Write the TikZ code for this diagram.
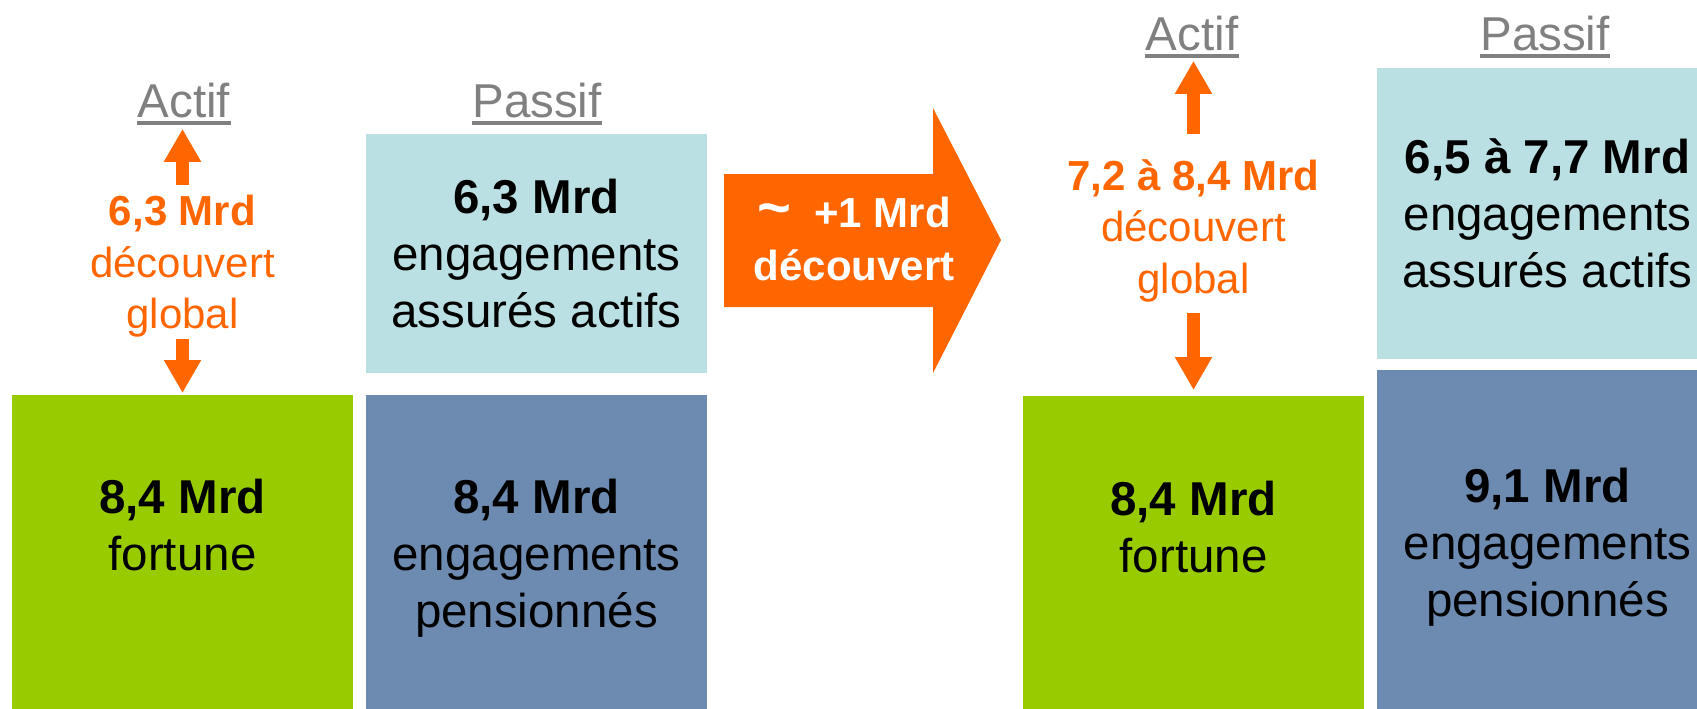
\documentclass[tikz,border=0pt]{standalone}
\usepackage{fontspec}
\setmainfont{Liberation Sans}
\usetikzlibrary{arrows.meta,positioning,fit}
\definecolor{orangeA}{HTML}{FF6600}
\definecolor{greenA}{HTML}{99CC00}
\definecolor{blueA}{HTML}{6D8AB0}
\definecolor{cyanA}{HTML}{BAE0E3}
\definecolor{grayA}{HTML}{808080}
\tikzstyle{block} = [inner sep=0,outer sep=0,draw=none]
\tikzstyle{colhead} = [inner sep=0,text=grayA,font=\fontsize{23.75}{28}\selectfont]
\tikzstyle{boxtext} = [inner sep=0,align=center,font=\fontsize{23.75}{28.5}\selectfont]
\tikzstyle{gap} = [inner sep=0,align=center,text=orangeA,font=\fontsize{21}{25.75}\selectfont]
\tikzstyle{bigtext} = [inner sep=0,align=center,text=white,font=\fontsize{21}{26.5}\selectfont\bfseries]
\tikzstyle{flow} = [-{Triangle[width=17.5pt,length=16.5pt]},line width=6.6pt,orangeA]
\tikzstyle{underl} = [line width=2pt,grayA]

\begin{document}
\begin{tikzpicture}[x=0.5pt,y=-0.5pt]
  \useasboundingbox (0,0) rectangle (1697,708);
  \clip (0,0) rectangle (1697,708);

  \node[block,fill=cyanA,fit={(366,134) (707,373)}] (engL) {};
  \node[block,fill=greenA,fit={(12,395) (353,720)}] (fortuneL) {};
  \node[block,fill=blueA,fit={(366,395) (707,720)}] (pensionL) {};
  \node[block,fill=cyanA,fit={(1377,68) (1718,359)}] (engR) {};
  \node[block,fill=greenA,fit={(1023,396) (1364,720)}] (fortuneR) {};
  \node[block,fill=blueA,fit={(1377,370) (1718,720)}] (pensionR) {};

  \node[boxtext] (engLt) at (engL.center) {\textbf{6,3 Mrd}\\ engagements\\assurés actifs};
  \node[boxtext,below=42pt of fortuneL.north] (fortuneLt) {\textbf{8,4 Mrd}\\fortune};
  \node[boxtext,below=42pt of pensionL.north] (pensionLt) {\textbf{8,4 Mrd}\\engagements\\pensionnés};
  \node[boxtext] (engRt) at (engR.center) {\textbf{6,5 à 7,7 Mrd}\\ engagements\\assurés actifs};
  \node[boxtext,below=42.5pt of fortuneR.north] (fortuneRt) {\textbf{8,4 Mrd}\\fortune};
  \node[boxtext,below=49pt of pensionR.north] (pensionRt) {\textbf{9,1 Mrd}\\engagements\\pensionnés};

  \node[colhead,anchor=base] (actifL) at (184,117) {Actif};
  \node[colhead,anchor=base] (passifL) at (537,117) {Passif};
  \node[colhead,anchor=base] (actifR) at (1192,50) {Actif};
  \node[colhead,anchor=base] (passifR) at (1545,50) {Passif};
  \foreach \h in {actifL,passifL,actifR,passifR}
    \draw[underl] ([yshift=-3pt]\h.base west) -- ([yshift=-3pt]\h.base east);

  \node[gap,above=28.5pt of fortuneL.north] (decL) {\textbf{6,3 Mrd}\\découvert\\global};
  \node[gap,above=46.75pt of fortuneR.north] (decR) {\textbf{7,2 à 8,4 Mrd}\\découvert\\global};

  \draw[flow,shorten <=5pt,shorten >=5.5pt] (decL.north) -- (decL.north |- actifL.south);
  \draw[flow,shorten <=0.5pt,shorten >=1pt] (decL.south) -- (decL.south |- fortuneL.north);
  \draw[flow,shorten <=12.5pt,shorten >=5pt] (decR.north) -- (decR.north |- actifR.south);
  \draw[flow,shorten <=5pt,shorten >=3pt] (decR.south) -- (decR.south |- fortuneR.north);

  \fill[orangeA] (724,174) -- (933,174) -- (933,108) -- (1001,240) -- (933,373)
    -- (933,307) -- (724,307) -- cycle;
  \node[bigtext] (plus) at (854,239) {{\fontsize{29}{26.5}\selectfont\textasciitilde}\ \ +1 Mrd\\découvert};
\end{tikzpicture}
\end{document}
